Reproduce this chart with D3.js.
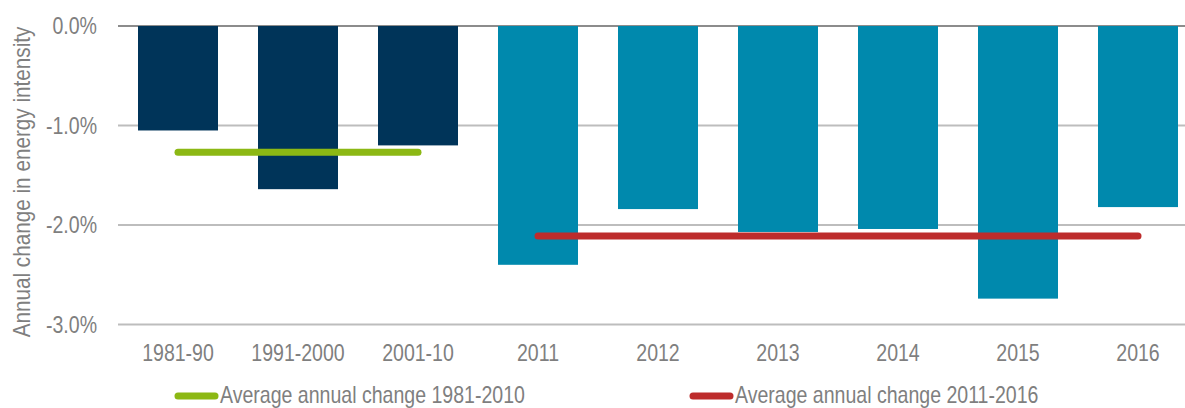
<!DOCTYPE html>
<html>
<head>
<meta charset="utf-8">
<script src="https://cdn.jsdelivr.net/npm/d3@7"></script>
<style>
  body { margin: 0; background: #fff; }
  svg text { font-family: "Liberation Sans Narrow", "Arial Narrow", "Liberation Sans", Arial, sans-serif; fill: #7f7f7f; font-size: 23px; }
</style>
</head>
<body>
<svg width="1185" height="408"></svg>
<script>
// categories and values (annual % change in energy intensity)
var categories = ["1981-90", "1991-2000", "2001-10", "2011", "2012", "2013", "2014", "2015", "2016"];
var values = [-1.05, -1.64, -1.20, -2.40, -1.84, -2.07, -2.04, -2.74, -1.82];
// first three are decade averages, rest single years
var groups = ["decade", "decade", "decade", "year", "year", "year", "year", "year", "year"];
var yTicks = [0, -1, -2, -3];

// average lines
var avgNames = ["Average annual change 1981-2010", "Average annual change 2011-2016"];
var avgValues = [-1.27, -2.11];
var avgFrom = ["1981-90", "2011"];
var avgTo = ["2001-10", "2016"];
var avgColors = ["#8cb814", "#bd2c2c"];

var barColor = d3.scaleOrdinal()
  .domain(["decade", "year"])
  .range(["#003459", "#0089ad"]);

var squeeze = 0.85; // narrow font look

var svg = d3.select("svg");

var x = d3.scaleBand()
  .domain(categories)
  .range([118, 1198])
  .paddingInner(1 / 3)
  .paddingOuter(1 / 6);

var y = d3.scaleLinear()
  .domain([-3, 0])
  .range([324.5, 26]);

// gridlines (behind bars), zero line is darker
svg.append("g")
  .selectAll("line")
  .data(yTicks)
  .enter().append("line")
  .attr("x1", 118)
  .attr("x2", 1185)
  .attr("y1", function(d) { return y(d); })
  .attr("y2", function(d) { return y(d); })
  .attr("stroke", function(d) { return d === 0 ? "#8c8c8c" : "#bdbdbd"; })
  .attr("stroke-width", 2);

// y tick labels
svg.append("g")
  .selectAll("text")
  .data(yTicks)
  .enter().append("text")
  .attr("transform", function(d) { return "translate(97," + y(d) + ") scale(" + squeeze + ",1)"; })
  .attr("dy", "0.35em")
  .attr("text-anchor", "end")
  .text(function(d) { return d.toFixed(1) + "%"; });

// bars
svg.append("g")
  .selectAll("rect")
  .data(categories)
  .enter().append("rect")
  .attr("x", function(d) { return x(d); })
  .attr("width", x.bandwidth())
  .attr("y", y(0))
  .attr("height", function(d, i) { return y(values[i]) - y(0); })
  .attr("fill", function(d, i) { return barColor(groups[i]); });

// average lines
svg.append("g")
  .selectAll("line")
  .data(avgValues)
  .enter().append("line")
  .attr("x1", function(d, i) { return x(avgFrom[i]) + x.bandwidth() / 2; })
  .attr("x2", function(d, i) { return x(avgTo[i]) + x.bandwidth() / 2; })
  .attr("y1", function(d) { return y(d); })
  .attr("y2", function(d) { return y(d); })
  .attr("stroke", function(d, i) { return avgColors[i]; })
  .attr("stroke-width", 7)
  .attr("stroke-linecap", "round");

// x labels
svg.append("g")
  .selectAll("text")
  .data(categories)
  .enter().append("text")
  .attr("transform", function(d) { return "translate(" + (x(d) + x.bandwidth() / 2) + ",361) scale(" + squeeze + ",1)"; })
  .attr("text-anchor", "middle")
  .text(function(d) { return d; });

// axis title
svg.append("text")
  .attr("transform", "translate(30,182) rotate(-90) scale(0.9,1)")
  .attr("text-anchor", "middle")
  .text("Annual change in energy intensity");

// legend
var legendX = [178, 693];
var legend = svg.append("g")
  .selectAll("g")
  .data(avgNames)
  .enter().append("g")
  .attr("transform", function(d, i) { return "translate(" + legendX[i] + ",396)"; });

legend.append("line")
  .attr("x1", 0)
  .attr("x2", 37)
  .attr("stroke", function(d, i) { return avgColors[i]; })
  .attr("stroke-width", 7)
  .attr("stroke-linecap", "round");

legend.append("text")
  .attr("transform", "translate(42,7) scale(" + squeeze + ",1)")
  .text(function(d) { return d; });
</script>
</body>
</html>
